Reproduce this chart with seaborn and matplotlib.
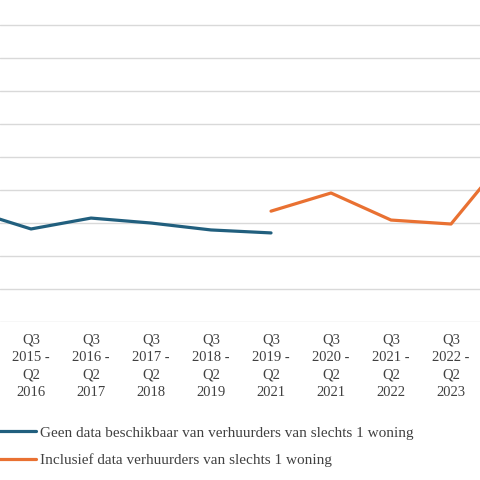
import matplotlib
matplotlib.use("Agg")
import matplotlib.pyplot as plt
import seaborn as sns
import pandas as pd
import numpy as np

periods = ["Q3\n2014 -\nQ2\n2015", "Q3\n2015 -\nQ2\n2016", "Q3\n2016 -\nQ2\n2017", "Q3\n2017 -\nQ2\n2018",
           "Q3\n2018 -\nQ2\n2019", "Q3\n2019 -\nQ2\n2021", "Q3\n2020 -\nQ2\n2021", "Q3\n2021 -\nQ2\n2022",
           "Q3\n2022 -\nQ2\n2023", "Q3\n2023 -\nQ2\n2024"]
blue_vals = [3.39, 2.82, 3.15, 3.0, 2.79, 2.7, None, None, None, None]
orange_vals = [None, None, None, None, None, 3.36, 3.91, 3.09, 2.97, 5.18]
blue_name = "Geen data beschikbaar van verhuurders van slechts 1 woning"
orange_name = "Inclusief data verhuurders van slechts 1 woning"

sns.set_theme(style="white")
plt.rcParams['font.family'] = ['Liberation Serif', 'DejaVu Serif']

df = pd.DataFrame({"idx": np.arange(len(periods)), blue_name: blue_vals, orange_name: orange_vals})
long = df.melt(id_vars="idx", var_name="serie", value_name="v").dropna()

fig = plt.figure(figsize=(4.8, 4.8), dpi=100)
ax = fig.add_axes([0, 158/480, 1, 322/480])
sns.lineplot(data=long, x="idx", y="v", hue="serie", palette=["#215F7E", "#E97132"],
             linewidth=2.3, ax=ax, legend=False)
ax.set_yticks(range(0, 10))
ax.yaxis.grid(True, color="#d9d9d9", linewidth=1)
ax.set_yticklabels([])
ax.tick_params(axis="y", length=0)
ax.set_xticks(range(len(periods)))
ax.set_xticklabels(periods, fontsize=10.5, color="#404040", linespacing=1.45)
ax.tick_params(axis="x", length=0, pad=8)
ax.set_xlim(0.483, 8.483)
ax.set_ylim(0, 9.76)
for s in ax.spines.values():
    s.set_visible(False)
ax.set_xlabel(""); ax.set_ylabel("")

from matplotlib.lines import Line2D
handles = [Line2D([], [], color="#215F7E", lw=2.3), Line2D([], [], color="#E97132", lw=2.3)]
fig.legend(handles, [blue_name, orange_name], loc="upper left", bbox_to_anchor=(-0.005, 54/480),
           frameon=False, fontsize=11, handlelength=2.5, handletextpad=0.3, labelspacing=0.9,
           labelcolor="#404040", borderaxespad=0, borderpad=0)
fig.savefig("out.png", dpi=100)
